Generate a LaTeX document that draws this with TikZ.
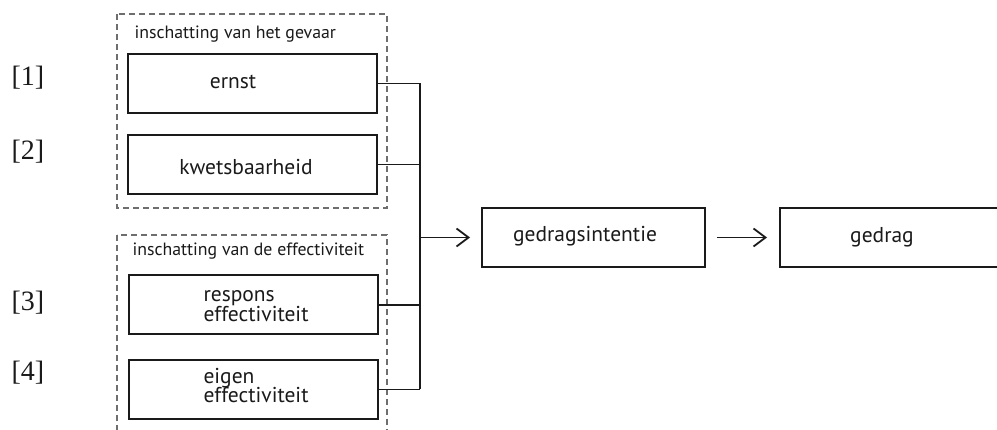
\documentclass[tikz,border=0pt]{standalone}
\usepackage{fontspec}
\setmainfont{PT Sans}
\newfontfamily\nummerfont{Liberation Serif}
\usetikzlibrary{arrows.meta,positioning}
\definecolor{ink}{HTML}{1A1A1A}
\definecolor{streep}{HTML}{6E6E6E}

\begin{document}
\begin{tikzpicture}[
  x=1pt,y=-1pt,
  every node/.style={font=\fontsize{21.5}{20}\selectfont,align=left,text=ink},
  blok/.style={draw=ink,line width=2pt,minimum width=249pt,minimum height=59pt,inner sep=0pt},
  groep/.style={draw=streep,line width=1.1pt,dash pattern=on 6pt off 4pt},
  kop/.style={font=\fontsize{17.8}{20}\selectfont,anchor=base west},
  tekst/.style={anchor=base},
  nummer/.style={font=\nummerfont\fontsize{28}{30}\selectfont},
  lijn/.style={draw=ink,line width=1.8pt},
  pijl/.style={lijn,-{Straight Barb[length=12pt,width=18pt]}}
]
\useasboundingbox (0,0) rectangle (997,430);
\clip (0,0) rectangle (997,430);

% groepen
\draw[groep] (117,14) rectangle (387,208);
\draw[groep] (117,235) rectangle (387,450);
\node[kop] (gevaar) at (131,39) {inschatting van het gevaar};
\node[kop] (effect) at (129,256) {inschatting van de effectiviteit};

% blokken links
\node[blok] (ernst) at (252.5,83.5) {};
\node[blok] (kwets) at (252.5,164.5) {};
\node[blok] (respons) at (253,305) {};
\node[blok] (eigen) at (253,389.5) {};
\node[tekst] (ernst-t) at (233,89) {ernst};
\node[tekst] (kwets-t) at (246,175) {kwetsbaarheid};
\node[anchor=base west] (respons-t) at (200,322) {respons\\effectiviteit};
\node[anchor=base west] (eigen-t) at (200,403) {eigen\\effectiviteit};

% blokken rechts
\node[blok,minimum width=223pt] (intentie) at (593.5,237.5) {};
\node[blok,minimum width=240pt] (gedrag) at (900,237.5) {};
\node[tekst] (intentie-t) at (585,242) {gedragsintentie};
\node[tekst] (gedrag-t) at (882,243) {gedrag};

% nummers
\node[nummer] (n1) at (28,78) {[1]};
\node[nummer] (n2) at (28,152) {[2]};
\node[nummer] (n3) at (28,303) {[3]};
\node[nummer] (n4) at (28,373) {[4]};

% verbindingen
\coordinate (bus) at (420,237.5);
\draw[lijn] (ernst.east) -- (ernst.east -| bus);
\draw[lijn] (kwets.east) -- (kwets.east -| bus);
\draw[lijn] (respons.east) -- (respons.east -| bus);
\draw[lijn] (eigen.east) -- (eigen.east -| bus);
\draw[lijn] (ernst.east -| bus) -- (eigen.east -| bus);
\draw[pijl,shorten >=11pt] (bus) -- (intentie.west);
\draw[pijl,shorten <=11pt,shorten >=12pt] (intentie.east) -- (gedrag.west);
\end{tikzpicture}
\end{document}
